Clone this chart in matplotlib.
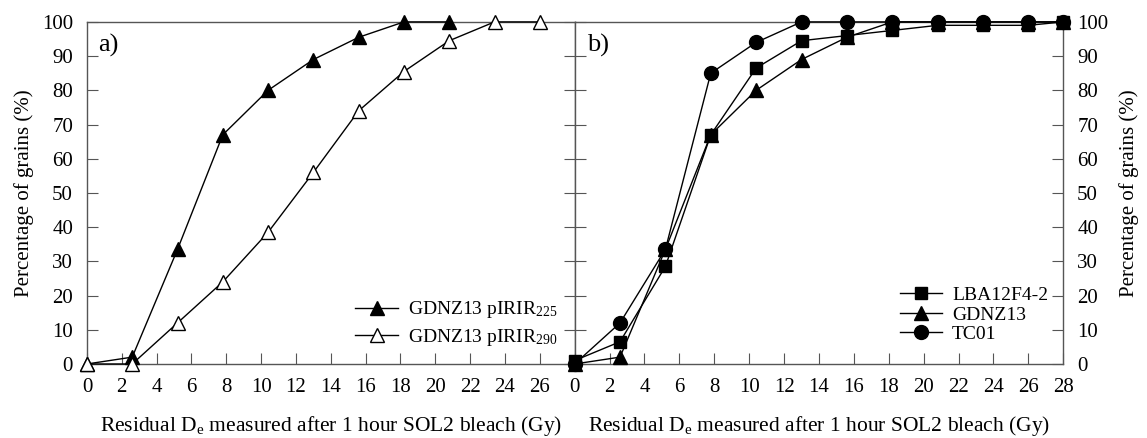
import matplotlib
matplotlib.use("Agg")
import matplotlib.pyplot as plt

plt.rcParams['font.family'] = ['Liberation Serif', 'DejaVu Serif']
plt.rcParams['mathtext.fontset'] = 'custom'
plt.rcParams['mathtext.rm'] = 'Liberation Serif'
plt.rcParams['mathtext.it'] = 'Liberation Serif:italic'

# Panel a
x_a225 = [0, 2.6, 5.2, 7.8, 10.4, 13.0, 15.6, 18.2, 20.8]
y_a225 = [0, 2, 33.5, 67, 80, 89, 95.5, 100, 100]
x_a290 = [0, 2.6, 5.2, 7.8, 10.4, 13.0, 15.6, 18.2, 20.8, 23.4, 26.0]
y_a290 = [0, 0, 12, 24, 38.5, 56, 74, 85.5, 94.5, 100, 100]

# Panel b
x_lba = [0, 2.6, 5.2, 7.8, 10.4, 13.0, 15.6, 18.2, 20.8, 23.4, 26.0, 28.0]
y_lba = [1, 6.5, 28.5, 67, 86.5, 94.5, 96, 97.5, 99, 99, 99, 100]
x_gdnz = [0, 2.6, 5.2, 7.8, 10.4, 13.0, 15.6, 18.2, 20.8, 23.4, 26.0, 28.0]
y_gdnz = [0, 2, 33.5, 67, 80, 89, 95.5, 100, 100, 100, 100, 100]
x_tc = [0, 2.6, 5.2, 7.8, 10.4, 13.0, 15.6, 18.2, 20.8, 23.4, 26.0, 28.0]
y_tc = [0, 12, 33.5, 85, 94, 100, 100, 100, 100, 100, 100, 100]

fig = plt.figure(figsize=(11.47, 4.38), dpi=100)
ax1 = fig.add_axes([0.0758, 0.169, 0.4252, 0.781])
ax2 = fig.add_axes([0.501, 0.169, 0.426, 0.781])

lw = 1.0
ms = 10
spc = '#555555'
ax1.plot(x_a225, y_a225, '-^', color='black', lw=lw, ms=ms, mfc='black', mec='black',
         label=r'GDNZ13 pIRIR$_{\mathregular{225}}$', clip_on=False, zorder=3)
ax1.plot(x_a290, y_a290, '-^', color='black', lw=lw, ms=ms, mfc='white', mec='black',
         label=r'GDNZ13 pIRIR$_{\mathregular{290}}$', clip_on=False, zorder=3)

ax2.plot(x_lba, y_lba, '-s', color='black', lw=lw, ms=8.5, label='LBA12F4-2', clip_on=False, zorder=3)
ax2.plot(x_gdnz, y_gdnz, '-^', color='black', lw=lw, ms=ms, label='GDNZ13', clip_on=False, zorder=3)
ax2.plot(x_tc, y_tc, '-o', color='black', lw=lw, ms=ms, label='TC01', clip_on=False, zorder=3)

fs = 15
for ax in (ax1, ax2):
    ax.set_xlim(0, 28)
    ax.set_ylim(0, 100)
    ax.set_yticks(range(0, 101, 10))
    for s in ax.spines.values():
        s.set_color(spc)
        s.set_linewidth(1.0)
    ax.set_xlabel(r'Residual D$_{\mathregular{e}}$ measured after 1 hour SOL2 bleach (Gy)',
                  fontsize=15.5, labelpad=12)
    ax.tick_params(axis='both', direction='in', length=8, labelsize=fs, color=spc,
                   left=True, right=True, top=False, bottom=True)
    ax.tick_params(axis='x', pad=10)

ax1.set_xticks(range(0, 27, 2))
ax2.set_xticks(range(0, 29, 2))

ax1.tick_params(axis='y', labelleft=True, labelright=False, pad=10)
ax1.set_ylabel('Percentage of grains (%)', fontsize=fs, labelpad=6)

ax2.yaxis.set_label_position('right')
ax2.tick_params(axis='y', labelleft=False, labelright=True, pad=10)
ax2.set_ylabel('Percentage of grains (%)', fontsize=fs, labelpad=8)

ax1.text(0.022, 0.93, 'a)', transform=ax1.transAxes, fontsize=19, va='center', ha='left')
ax2.text(0.025, 0.93, 'b)', transform=ax2.transAxes, fontsize=19, va='center', ha='left')

ax1.legend(loc='lower right', frameon=False, fontsize=14, handlelength=2.2,
           bbox_to_anchor=(1.0, -0.005), labelspacing=0.35, handletextpad=0.5)
ax2.legend(loc='lower right', frameon=False, fontsize=14, handlelength=2.2,
           bbox_to_anchor=(1.005, 0.01), labelspacing=0.1, handletextpad=0.5)

fig.savefig('out.png', dpi=100)
